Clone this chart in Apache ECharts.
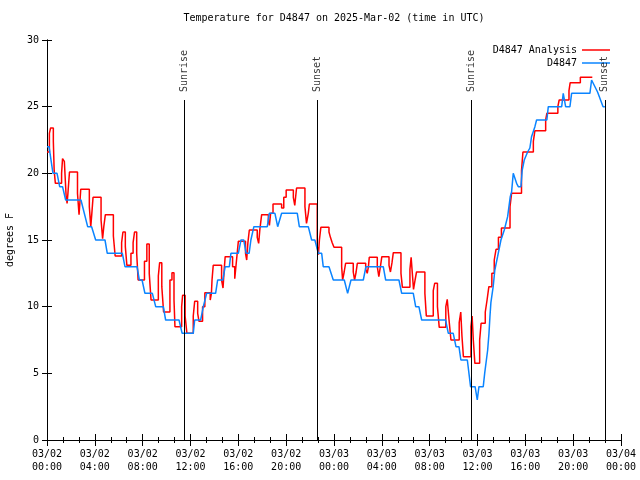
<!DOCTYPE html>
<html>
<head>
<meta charset="utf-8">
<script src="https://cdn.jsdelivr.net/npm/echarts@6/dist/echarts.min.js"></script>
<style>html,body{margin:0;padding:0;background:#fff}#c{width:640px;height:480px}</style>
</head>
<body>
<div id="c"></div>
<script>
// Hours since 03/02 00:00 UTC
const analysisTimes = [0,0.2,0.3,0.53,0.6,0.7,1.22,1.3,1.45,1.6,1.68,1.75,1.88,2.55,2.68,2.75,2.82,3.54,3.66,3.75,3.85,4.52,4.65,4.75,4.88,5.55,5.7,6.24,6.35,6.55,6.68,7.02,7.2,7.32,7.5,7.62,8.15,8.35,8.55,8.7,9.31,9.42,9.6,9.75,10.28,10.45,10.62,10.7,11.26,11.34,11.55,11.7,12.23,12.35,12.6,12.71,13.01,13.2,13.65,13.75,13.8,13.9,14.6,14.72,14.82,14.9,15.52,15.7,15.85,16.0,16.6,16.7,16.8,16.92,17.58,17.7,17.8,17.95,18.51,18.6,18.7,18.9,19.62,19.8,20.0,20.6,20.72,20.8,20.87,21.57,21.7,21.85,21.94,22.6,22.7,22.78,22.9,23.58,23.7,23.85,24.0,24.64,24.72,24.85,24.97,25.61,25.72,25.85,25.95,26.65,26.78,26.88,26.95,27.62,27.75,27.88,28.0,28.6,28.72,28.85,28.96,29.6,29.72,30.35,30.45,30.55,30.65,30.78,30.9,31.6,31.72,32.3,32.42,32.65,32.8,33.35,33.47,33.62,33.78,34.47,34.6,34.7,34.82,35.45,35.55,35.65,35.78,36.18,36.3,36.65,36.8,36.95,37.2,37.4,37.55,37.75,38.0,38.72,38.85,39.68,39.8,40.67,40.8,41.7,41.8,42.72,42.83,43.65,43.75,44.6,45.6];
const analysisTemps = [21.6,23.0,23.4,22.4,20.2,19.25,20.0,21.1,20.9,18.3,17.75,18.5,20.1,18.5,16.9,17.8,18.8,17.5,16.0,17.0,18.2,16.5,15.1,16.0,16.9,15.3,13.8,14.8,15.6,14.5,13.1,14.0,14.8,15.6,14.0,12.0,13.4,14.7,12.5,10.5,12.3,13.3,11.5,9.6,12.0,12.55,10.5,8.5,10.0,10.85,9.3,8.0,9.3,10.4,9.5,8.9,10.0,11.05,10.5,11.0,12.0,13.1,12.0,11.4,12.8,13.75,13.0,12.1,13.5,14.9,14.0,13.5,14.8,15.75,15.2,14.75,15.8,16.9,16.4,16.1,17.0,17.7,17.4,18.2,18.75,18.2,17.6,18.3,18.9,17.5,16.25,17.0,17.7,14.5,13.9,15.0,15.95,15.6,15.2,14.8,14.45,13.0,12.0,12.6,13.25,12.6,12.0,12.6,13.25,12.8,12.5,13.0,13.7,13.0,12.25,13.0,13.75,13.1,12.6,13.3,14.05,12.5,11.45,12.8,13.7,12.5,11.3,12.0,12.6,11.0,9.3,11.2,11.75,10.0,8.45,10.0,10.55,9.0,7.5,8.8,9.6,7.8,6.25,8.5,9.3,7.5,5.75,7.5,8.75,9.6,10.5,11.5,12.5,13.5,14.3,15.2,15.9,17.5,18.5,20.2,21.6,22.4,23.2,24.0,24.5,25.0,25.5,26.2,26.8,27.2,27.2];

const obsTimes = [0,0.17,0.5,0.84,1.06,1.3,1.56,2.84,3.4,3.73,4.07,4.85,5.04,6.3,6.52,7.53,7.72,7.95,8.19,8.81,9.09,9.73,9.92,11.04,11.3,12.23,12.35,12.85,13.07,13.35,14.1,14.27,14.7,14.9,15.25,15.38,16.0,16.22,16.45,16.65,16.9,17.05,17.3,18.42,18.59,19.06,19.29,19.44,19.62,20.93,21.1,21.85,22.13,22.4,22.69,22.97,23.1,23.58,23.94,24.86,25.14,25.25,25.42,26.45,26.67,28.12,28.32,29.43,29.66,30.63,30.83,31.1,31.33,33.33,33.56,33.97,34.2,34.45,34.61,35.15,35.42,35.8,35.98,36.12,36.48,36.6,36.85,36.96,37.04,37.12,37.31,37.45,37.68,37.96,38.24,38.52,38.74,38.85,38.99,39.13,39.27,39.41,39.63,39.74,39.91,40.19,40.38,40.52,40.8,40.94,41.8,41.92,43.04,43.17,43.25,43.37,43.73,43.87,45.4,45.54,46.04,46.5,46.65];
const obsTemps = [22,22,20,20,19,19,18,18,16,16,15,15,14,14,13,13,12,12,11,11,10,10,9,9,8,8,9,9,10,11,11,12,12,13,13,14,14,15,15,14,14,15,16,16,17,17,16,16,17,17,16,16,15,15,14,14,13,13,12,12,11,11,12,12,13,13,12,12,11,11,10,10,9,9,8,8,7,7,6,6,4,4,3,4,4,5,6.75,8,9.25,10.3,11.5,12.75,13.75,15,15.75,16.75,18.25,18.6,20,20,19.25,19,19,20.25,21,21.6,21.9,22.75,23.5,24,24,25,25,26,26,25,25,26,26,27,26.1,25,25];

const eventTimes = [11.5, 22.62, 35.5, 46.65];
const eventNames = ['Sunrise', 'Sunset', 'Sunrise', 'Sunset'];
const eventLineTop = 25.5;
const eventLabelAt = 26.1;

const xTickInterval = 4;
const yTicks = [0, 5, 10, 15, 20, 25, 30];

const FONT = 'DejaVu Sans Mono';

function fmtTime(v) {
  const d = 2 + Math.floor(v / 24 + 1e-9);
  const h = Math.round(v - (d - 2) * 24);
  return '03/0' + d + '\n' + String(h).padStart(2, '0') + ':00';
}

const chart = echarts.init(document.getElementById('c'), null, { renderer: 'canvas' });

const xBase = {
  type: 'value', min: 0, max: 48, interval: xTickInterval,
  axisLine: { show: true, lineStyle: { color: '#000', width: 1 } },
  axisTick: { show: true, inside: true, length: 6, lineStyle: { color: '#000' } },
  minorTick: { show: true, splitNumber: 3, length: 3, lineStyle: { color: '#000' } },
  splitLine: { show: false },
  minorSplitLine: { show: false }
};
const yBase = {
  type: 'value', min: yTicks[0], max: yTicks[yTicks.length - 1], interval: 5,
  axisLine: { show: true, lineStyle: { color: '#000', width: 1 } },
  axisTick: { show: true, inside: true, length: 5, lineStyle: { color: '#000' } },
  splitLine: { show: false }
};

chart.setOption({
  animation: false,
  backgroundColor: '#fff',
  title: {
    text: 'Temperature for D4847 on 2025-Mar-02 (time in UTC)',
    left: 334, top: 13, textAlign: 'center', padding: 0,
    textStyle: { fontFamily: FONT, fontSize: 10, fontWeight: 'normal', color: '#000' }
  },
  legend: {
    data: ['D4847 Analysis', 'D4847'],
    orient: 'vertical', right: 30, top: 44, align: 'right', padding: 0,
    icon: 'rect', itemWidth: 28, itemHeight: 1.5, itemGap: 1,
    textStyle: { fontFamily: FONT, fontSize: 10, color: '#000', lineHeight: 12 }
  },
  grid: { left: 47, right: 19, top: 40, bottom: 40, containLabel: false, outerBoundsMode: 'none' },
  xAxis: [
    Object.assign({}, xBase, {
      position: 'bottom',
      axisLabel: { show: true, formatter: fmtTime, fontFamily: FONT, fontSize: 10, color: '#000', margin: 8, lineHeight: 13, showMinLabel: true, showMaxLabel: true, hideOverlap: false }
    }),
    Object.assign({}, xBase, { position: 'top', axisLabel: { show: false } })
  ],
  yAxis: [
    Object.assign({}, yBase, {
      position: 'left',
      name: 'degrees F', nameLocation: 'middle', nameRotate: 90, nameGap: 32,
      nameTextStyle: { fontFamily: FONT, fontSize: 10, color: '#000' },
      axisLabel: { show: true, fontFamily: FONT, fontSize: 10, color: '#000', margin: 8 }
    }),
    Object.assign({}, yBase, { position: 'right', axisLabel: { show: false } })
  ],
  series: [
    {
      name: 'D4847 Analysis', type: 'line', step: 'end', showSymbol: false, symbol: 'none',
      data: analysisTimes.map((t, i) => [t, analysisTemps[i]]),
      lineStyle: { color: '#ff0000', width: 1.5 }, itemStyle: { color: '#ff0000' }, z: 3
    },
    {
      name: 'D4847', type: 'line', showSymbol: false, symbol: 'none',
      data: obsTimes.map((t, i) => [t, obsTemps[i]]),
      lineStyle: { color: '#0a84ff', width: 1.5 }, itemStyle: { color: '#0a84ff' }, z: 4
    },
    {
      name: 'events', type: 'scatter', symbolSize: 0, silent: true, z: 5,
      data: eventTimes.map((t, i) => [t, eventLabelAt, eventNames[i]]),
      label: {
        show: true, position: [0, 0], rotate: 90, align: 'left', verticalAlign: 'middle',
        formatter: p => p.data[2], fontFamily: FONT, fontSize: 10, color: '#000'
      },
      markLine: {
        silent: true, symbol: ['none', 'none'], animation: false,
        label: { show: false },
        lineStyle: { color: '#000', width: 1, type: 'solid' },
        data: eventTimes.map(t => [{ coord: [t, 0] }, { coord: [t, eventLineTop] }])
      }
    }
  ]
});
</script>
</body>
</html>
